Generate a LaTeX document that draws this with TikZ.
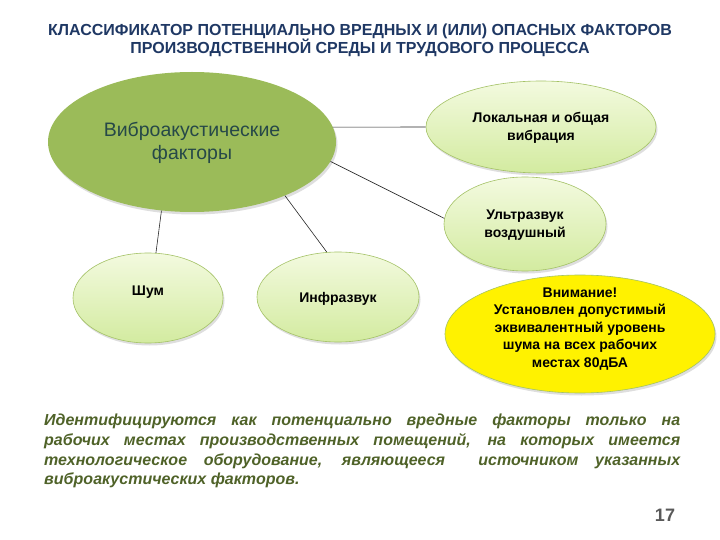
\documentclass[tikz,border=0pt]{standalone}
\usepackage{fontspec}
\setmainfont{Liberation Sans}
\usetikzlibrary{shapes.geometric,shadows}
\definecolor{titleblue}{HTML}{1F3864}
\definecolor{olivefill}{HTML}{9BBB59}
\definecolor{oliveline}{HTML}{A4C266}
\definecolor{bigtext}{HTML}{264848}
\definecolor{paratext}{HTML}{4F6228}
\definecolor{lighttop}{HTML}{F3FADF}
\definecolor{lightbot}{HTML}{D3EBA0}
\definecolor{numgray}{HTML}{595959}
\tikzset{
  shadowed/.style={drop shadow={shadow xshift=1.5pt,shadow yshift=-2.5pt,opacity=0.13,fill=black}},
  bigell/.style={ellipse,fill=olivefill,draw=none,inner sep=0pt,shadowed},
  smallell/.style={ellipse,top color=lighttop,bottom color=lightbot,draw=oliveline,line width=0.6pt,
    inner sep=0pt,shadowed},
  warnell/.style={ellipse,fill=yellow,draw=oliveline,line width=0.6pt,inner sep=0pt,shadowed},
  bigtxt/.style={text=bigtext,align=center,inner sep=0pt,font=\fontsize{19.5}{23}\selectfont},
  smalltxt/.style={align=center,inner sep=0pt,font=\bfseries\fontsize{14}{18}\selectfont},
  warntxt/.style={align=center,inner sep=0pt,font=\bfseries\fontsize{14}{17.5}\selectfont},
  link/.style={draw=black!85,line width=0.6pt},
  titletext/.style={text=titleblue,font=\bfseries\fontsize{16}{18}\selectfont,inner sep=0pt},
  paraline/.style={anchor=base west,inner sep=0pt,text=paratext,font=\bfseries\itshape\fontsize{16}{19}\selectfont}
}
\begin{document}
\begin{tikzpicture}[x=1pt,y=-1pt]
\useasboundingbox (0,0) rectangle (720,540);
\fill[white] (0,0) rectangle (720,540);

\node[titletext] (t1) at (360,31) {КЛАССИФИКАТОР ПОТЕНЦИАЛЬНО ВРЕДНЫХ И (ИЛИ) ОПАСНЫХ ФАКТОРОВ};
\node[titletext] (t2) at (360,48) {ПРОИЗВОДСТВЕННОЙ СРЕДЫ И ТРУДОВОГО ПРОЦЕССА};

\node[bigell,minimum width=288pt,minimum height=140pt] (big) at (192,142) {};
\node[smallell,minimum width=230pt,minimum height=92pt] (loc) at (541,127) {};
\node[smallell,minimum width=162pt,minimum height=94pt] (ultra) at (525,224) {};
\node[smallell,minimum width=150pt,minimum height=90pt] (shum) at (148,298) {};
\node[smallell,minimum width=162pt,minimum height=90pt] (infra) at (338,297) {};
\node[warnell,minimum width=270pt,minimum height=118pt] (warn) at (580,334) {};

\node[bigtxt] (bigt) at (192,143) {Виброакустические\\факторы};
\node[smalltxt] (loct) at (541,128) {Локальная и общая\\вибрация};
\node[smalltxt] (ultrat) at (525,225) {Ультразвук\\воздушный};
\node[smalltxt] (shumt) at (148,292) {Шум};
\node[smalltxt] (infrat) at (338,299) {Инфразвук};
\node[warntxt] (warnt) at (580,329) {Внимание!\\Установлен допустимый\\эквивалентный уровень\\шума на всех рабочих\\местах 80дБА};

\draw[link] (big.6.09) -- (loc.west);
\draw[link] (big.-8) -- (ultra.176);
\draw[link] (big.246) -- (shum.80);
\draw[link] (big.-30) -- (infra.104);

\node[paraline] (p1) at (44,425) {\makebox[636pt][s]{Идентифицируются как потенциально вредные факторы только на}};
\node[paraline] (p2) at (44,445) {\makebox[636pt][s]{рабочих местах производственных помещений, на которых имеется}};
\node[paraline] (p3) at (44,465) {\makebox[636pt][s]{технологическое оборудование, являющееся\ \ источником указанных}};
\node[paraline] (p4) at (44,484.5) {виброакустических факторов.};

\node[text=numgray,font=\bfseries\fontsize{18}{21}\selectfont,inner sep=0pt] (num) at (665,515) {17};
\end{tikzpicture}
\end{document}
